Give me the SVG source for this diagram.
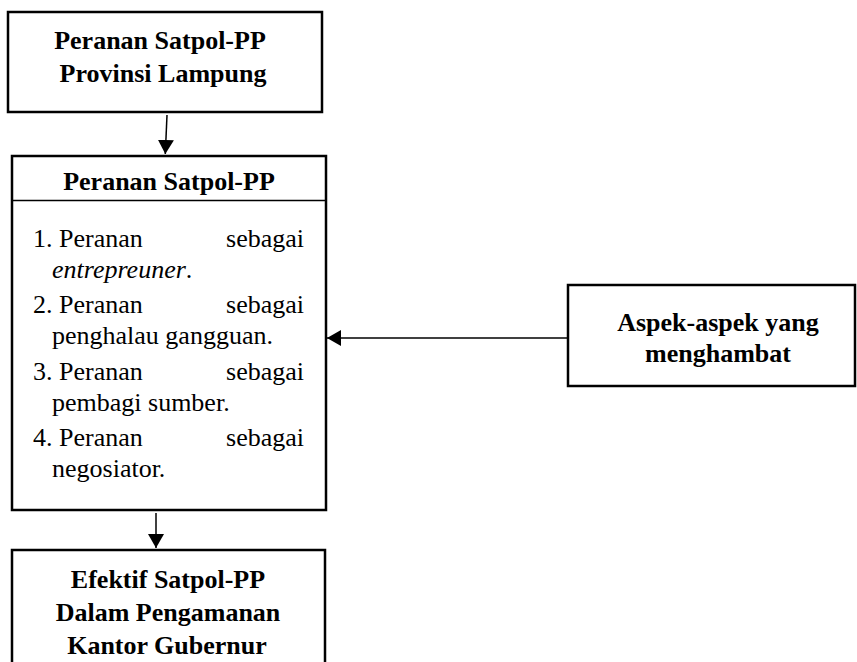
<svg xmlns="http://www.w3.org/2000/svg" width="857" height="662" viewBox="0 0 857 662">
<style>
.box{fill:#fff;stroke:#000;stroke-width:2.5}
.b{font-family:"Liberation Serif","Times New Roman",serif;font-weight:bold;font-size:26px;fill:#000;text-anchor:middle}
.r{font-family:"Liberation Serif","Times New Roman",serif;font-size:26px;fill:#000}
.e{text-anchor:end}
.line{stroke:#000;stroke-width:1.5;fill:none}
</style>
<defs>
<marker id="ah" viewBox="0 0 14 16" refX="14" refY="8" markerWidth="14" markerHeight="16" markerUnits="userSpaceOnUse" orient="auto">
<path d="M0,0 L14,8 L0,16 Z" fill="#000"/>
</marker>
</defs>
<rect width="857" height="662" fill="#fff"/>
<g id="node-provinsi">
<rect class="box" x="8" y="12" width="314" height="100"/>
<text class="b" x="160" y="49">Peranan Satpol-PP</text>
<text class="b" x="163" y="82">Provinsi Lampung</text>
</g>
<g id="node-peranan">
<rect class="box" x="12" y="156" width="314" height="354"/>
<line x1="12" y1="200.5" x2="326" y2="200.5" stroke="#000" stroke-width="1.5"/>
<text class="b" x="169" y="190">Peranan Satpol-PP</text>
<text class="r" x="33" y="247">1. Peranan</text>
<text class="r e" x="304" y="247">sebagai</text>
<text class="r" x="52" y="278"><tspan font-style="italic">entrepreuner</tspan>.</text>
<text class="r" x="33" y="313">2. Peranan</text>
<text class="r e" x="304" y="313">sebagai</text>
<text class="r" x="52" y="344">penghalau gangguan.</text>
<text class="r" x="33" y="380">3. Peranan</text>
<text class="r e" x="304" y="380">sebagai</text>
<text class="r" x="52" y="411">pembagi sumber.</text>
<text class="r" x="33" y="446">4. Peranan</text>
<text class="r e" x="304" y="446">sebagai</text>
<text class="r" x="52" y="477">negosiator.</text>
</g>
<g id="node-aspek">
<rect class="box" x="568" y="285" width="287" height="101"/>
<text class="b" x="718" y="331">Aspek-aspek yang</text>
<text class="b" x="718" y="362">menghambat</text>
</g>
<g id="node-efektif">
<rect class="box" x="12" y="550" width="313" height="120"/>
<text class="b" x="168" y="588">Efektif Satpol-PP</text>
<text class="b" x="168" y="621">Dalam Pengamanan</text>
<text class="b" x="167" y="654">Kantor Gubernur</text>
</g>
<g id="connectors">
<line class="line" x1="167" y1="115" x2="165.3" y2="154" marker-end="url(#ah)"/>
<line class="line" x1="156" y1="513" x2="156" y2="548" marker-end="url(#ah)"/>
<line class="line" x1="567" y1="338" x2="327" y2="338" marker-end="url(#ah)"/>
</g>
</svg>
